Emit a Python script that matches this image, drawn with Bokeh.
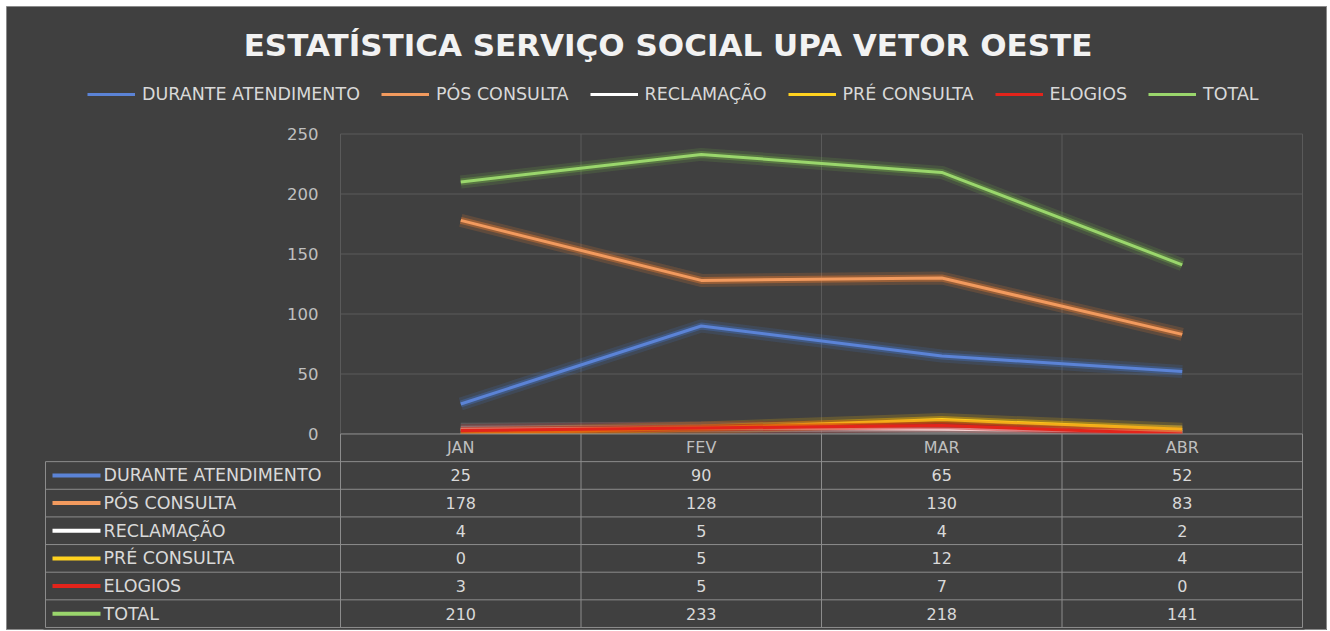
from bokeh.plotting import figure
from bokeh.models import Range1d, Legend, LegendItem
from bokeh.embed import file_html
from bokeh.resources import INLINE
from bokeh.core.properties import value

# ---------------- data ----------------
months = ["JAN", "FEV", "MAR", "ABR"]
series_names = ["DURANTE ATENDIMENTO", "PÓS CONSULTA", "RECLAMAÇÃO",
                "PRÉ CONSULTA", "ELOGIOS", "TOTAL"]
durante = [25, 90, 65, 52]
pos_consulta = [178, 128, 130, 83]
reclamacao = [4, 5, 4, 2]
pre_consulta = [0, 5, 12, 4]
elogios = [3, 5, 7, 0]
total = [210, 233, 218, 141]
y_ticks = [0, 50, 100, 150, 200, 250]
title_text = "ESTATÍSTICA SERVIÇO SOCIAL UPA VETOR OESTE"

# ---------------- style ----------------
BG = "#404040"
GRID = "#5a5a5a"
TXT = "#d9d9d9"
TICK_TXT = "#bfbfbf"
TABLE_LINE = "#8c8c8c"
FONT = "DejaVu Sans"
main_colors = ["#5b83d6", "#f29a5e", "#ffffff", "#ffd21f", "#e3241b", "#9ad66c"]
glow_colors = ["#4472C4", "#ED7D31", "#d0d0d0", "#FFC000", "#C00000", "#70AD47"]

all_series = [durante, pos_consulta, reclamacao, pre_consulta, elogios, total]
n = len(months)
xs = [i + 0.5 for i in range(n)]

# ---------------- layout geometry (pixels) ----------------
W, H = 1321, 624
col_px = 240.5                 # width of one month column
label_col_px = 295             # width of the table's label column
left_to_zero = 334             # figure left edge -> first month column
top_to_zero = 427.5            # figure top edge -> value 0
title_dx = 327.5               # first month column -> title centre
title_dy = 389.5               # value 0 -> title centre (upwards)
px_x = 1.0 / col_px
px_y = 1.0 / 1.2               # data units per pixel vertically
rows = len(series_names) + 1
row_px = 27.64

x_lo = -left_to_zero * px_x
x_hi = x_lo + W * px_x
y_hi = top_to_zero * px_y
y_lo = y_hi - H * px_y
left_edge = -label_col_px * px_x
row_h = row_px * px_y
y_bottom = -rows * row_h

p = figure(width=W, height=H,
           x_range=Range1d(x_lo, x_hi), y_range=Range1d(y_lo, y_hi),
           x_axis_type=None, y_axis_type=None,
           output_backend="svg", toolbar_location=None,
           min_border_left=0, min_border_right=0,
           min_border_top=0, min_border_bottom=0,
           outline_line_color="#8a8a8a", outline_line_width=1)
p.margin = (6, 3, 0, 6)
p.background_fill_color = BG
p.border_fill_color = BG
p.xgrid.visible = False
p.ygrid.visible = False

# title
p.text(x=[title_dx * px_x], y=[title_dy * px_y], text=[title_text],
       text_align="center", text_baseline="middle", text_color="#f2f2f2",
       text_font=value(FONT), text_font_style="bold", text_font_size="31px")

# chart grid lines
p.segment(x0=[0] * len(y_ticks), y0=y_ticks, x1=[n] * len(y_ticks), y1=y_ticks,
          line_color=GRID, line_width=1)
p.segment(x0=list(range(n + 1)), y0=[0] * (n + 1), x1=list(range(n + 1)),
          y1=[y_ticks[-1]] * (n + 1), line_color=GRID, line_width=1)

# series with glow
items = []
for name, vals, mc, gc in zip(series_names, all_series, main_colors, glow_colors):
    p.line(xs, vals, line_width=13, color=gc, alpha=0.18)
    p.line(xs, vals, line_width=7, color=gc, alpha=0.4)
    r = p.line(xs, vals, line_width=3, color=mc)
    items.append(LegendItem(label=name, renderers=[r]))

# cover the table area
p.quad(left=[left_edge - 2 * px_x], right=[n + 2 * px_x], bottom=[y_bottom - 2 * px_y], top=[0],
       fill_color=BG, line_color=None)

# y tick labels
p.text(x=[-22 * px_x] * len(y_ticks), y=y_ticks, text=[str(v) for v in y_ticks],
       text_align="right", text_baseline="middle", text_color=TICK_TXT,
       text_font=value(FONT), text_font_size="16.5px")

# table rules
hy = [-k * row_h for k in range(rows + 1)]
hx0 = [0] + [left_edge] * rows
p.segment(x0=hx0, y0=hy, x1=[n] * (rows + 1), y1=hy,
          line_color=TABLE_LINE, line_width=1)
vx = list(range(n + 1)) + [left_edge]
vy0 = [0] * (n + 1) + [-row_h]
p.segment(x0=vx, y0=vy0, x1=vx, y1=[y_bottom] * (n + 2),
          line_color=TABLE_LINE, line_width=1)

# header
p.text(x=xs, y=[-0.5 * row_h] * n, text=months, text_align="center",
       text_baseline="middle", text_color=TICK_TXT,
       text_font=value(FONT), text_font_size="16px")

for r_i, (name, vals, mc) in enumerate(zip(series_names, all_series, main_colors)):
    yc = -(r_i + 1.5) * row_h
    p.text(x=xs, y=[yc] * n, text=[str(v) for v in vals], text_align="center",
           text_baseline="middle", text_color=TXT,
           text_font=value(FONT), text_font_size="16px")
    p.segment(x0=[left_edge + 7 * px_x], y0=[yc], x1=[left_edge + 55 * px_x], y1=[yc],
              line_color=mc, line_width=4)
    p.text(x=[left_edge + 58 * px_x], y=[yc], text=[name], text_align="left",
           text_baseline="middle", text_color=TXT,
           text_font=value(FONT), text_font_size="17.5px")

legend = Legend(items=items, orientation="horizontal",
                location=(81, H - 104 + 6),
                glyph_width=48, glyph_height=20, label_standoff=7, spacing=21,
                padding=0, margin=0, background_fill_alpha=0,
                border_line_color=None, label_text_color=TXT,
                label_text_font=FONT, label_text_font_size="17.5px")
p.add_layout(legend, "center")

open("out.html", "w").write(file_html(p, INLINE))
